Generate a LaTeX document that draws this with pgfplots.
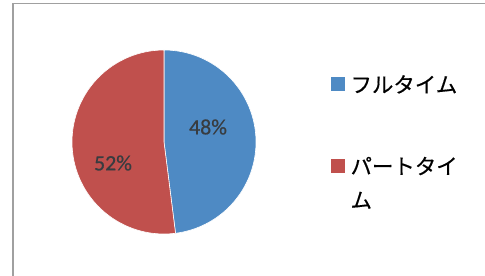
\documentclass[border=0pt]{standalone}
\usepackage{pgfplots}
\pgfplotsset{compat=1.18}
\usepackage{fontspec}
\setmainfont{Carlito}
\newfontfamily\jp[FakeBold=0.4]{Noto Sans CJK JP}
\newfontfamily\num[FakeBold=0.6]{Carlito}
\definecolor{pieblue}{HTML}{4E8AC4}
\definecolor{piered}{HTML}{C0504D}
\definecolor{framegray}{HTML}{A0A0A0}
\definecolor{numgray}{HTML}{383C40}
% shares (percent)
\newcommand{\fulltime}{48}
\newcommand{\parttime}{52}
\begin{document}
\begin{tikzpicture}
\begin{axis}[
  scale only axis, width=485bp, height=276bp,
  xmin=0, xmax=485, ymin=0, ymax=276,
  hide axis, clip=false,
  legend style={at={(axis cs:328,203)}, anchor=north west, draw=none, fill=none,
    font=\jp\fontsize{21.5}{26}\selectfont, row sep=62bp,
    nodes={inner sep=0pt, outer sep=0pt}},
  legend cell align=left,
  legend image code/.code={\fill[#1] (0bp,-6bp) rectangle (13bp,7bp);},
]
% frame
\draw[framegray, line width=1.6bp] (axis cs:13,-5) -- (axis cs:13,272.5) -- (axis cs:490,272.5);
% pie slices (clockwise from 12 o'clock), centre (164,134), radius 92
\addplot[fill=pieblue, draw=white, line width=0.6bp, domain=0:\fulltime, samples=80, variable=\t, forget plot]
  ({164+92*sin(3.6*\t)}, {134+92*cos(3.6*\t)}) -- (axis cs:164,134) -- cycle;
\addplot[fill=piered, draw=white, line width=0.6bp, domain=\fulltime:100, samples=80, variable=\t, forget plot]
  ({164+92*sin(3.6*\t)}, {134+92*cos(3.6*\t)}) -- (axis cs:164,134) -- cycle;
\node[font=\num\fontsize{22}{26}\selectfont, text=numgray] at (axis cs:208,149) {\fulltime\%};
\node[font=\num\fontsize{22}{26}\selectfont, text=numgray] at (axis cs:113,113) {\parttime\%};
\addlegendimage{pieblue}
\addlegendentry{\hspace{6bp}フルタイム}
\addlegendimage{piered}
\addlegendentry{\hspace{6bp}\begin{tabular}[t]{@{}l@{}}パートタイ\\[8bp]ム\end{tabular}}
\end{axis}
\pgfresetboundingbox
\path[use as bounding box] (0,0) rectangle (485bp,276bp);
\end{tikzpicture}
\end{document}
